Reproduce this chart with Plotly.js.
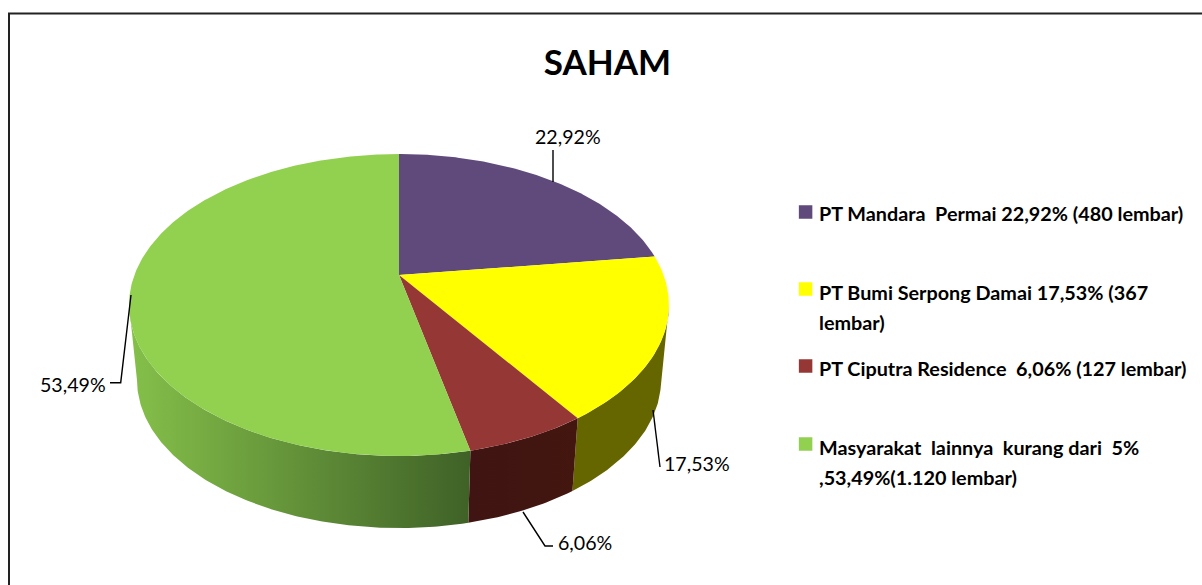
<!DOCTYPE html>
<html><head><meta charset="utf-8">
<style>html,body{margin:0;padding:0;background:#fff;overflow:hidden}#c{width:1202px;height:585px}</style>
<script src="https://cdn.plot.ly/plotly-3.0.1.min.js"></script></head>
<body><div id="c"></div>
<script>
// Data
const categories = ["PT Mandara Permai","PT Bumi Serpong Damai","PT Ciputra Residence","Masyarakat lainnya kurang dari 5%"];
const shares = [22.92,17.53,6.06,53.49];
const dataLabels = ["22,92%","17,53%","6,06%","53,49%"];
const legendLines = [
 "PT Mandara\u00a0 Permai 22,92% (480 lembar)",
 "PT Bumi Serpong Damai 17,53% (367",
 "lembar)",
 "PT Ciputra Residence\u00a0 6,06% (127 lembar)",
 "Masyarakat\u00a0 lainnya\u00a0 kurang dari\u00a0 5%",
 ",53,49%(1.120 lembar)"];
const topColors = ["#604A7B","#FFFF00","#953735","#92D050"];
const wallColors = [["#3A2C4A","#3A2C4A"],["#666600","#666600"],["#3F1412","#43160F"],["#85C04A","#3F6127"]];

// Layout constants (pixels, y down)
const CX=399, K=0.1987;
const TOP={A:264.6,al:275,be:-90.4}, BOT={A:256.8,al:350.6,be:-72.5};
const proj=(f,th)=>{const u=Math.sin(th),v=Math.cos(th),w=1+K*v;return [CX+f.A*u/w,(f.al+f.be*v)/w];};
const rad=p=>p/100*2*Math.PI;
const tanR=Math.acos(-K), tanL=2*Math.PI-Math.acos(-K);
const arc=(f,a,b)=>{const n=Math.max(2,Math.ceil(Math.abs(b-a)/0.01));const o=[];for(let i=0;i<=n;i++)o.push(proj(f,a+(b-a)*i/n));return o;};

const traces=[];
let cum=0; const spans=shares.map(s=>{const r=[rad(cum),rad(cum+s)];cum+=s;return r;});

// walls (visible part only)
spans.forEach((sp,i)=>{
  const a=Math.max(sp[0],tanR), b=Math.min(sp[1],tanL);
  if(b<=a) return;
  const pts=arc(TOP,a,b).concat(arc(BOT,b,a));
  pts.push(pts[0]);
  traces.push({type:"scatter",mode:"lines",x:pts.map(p=>p[0]),y:pts.map(p=>p[1]),fill:"toself",
    fillcolor:wallColors[i][0],
    fillgradient:{type:"horizontal",colorscale:[[0,wallColors[i][0]],[1,wallColors[i][1]]]},
    line:{width:0},hoverinfo:"skip",showlegend:false});
});
// top faces
spans.forEach((sp,i)=>{
  const pts=[[CX,TOP.al]].concat(arc(TOP,sp[0],sp[1]));pts.push([CX,TOP.al]);
  traces.push({type:"scatter",mode:"lines",x:pts.map(p=>p[0]),y:pts.map(p=>p[1]),fill:"toself",
    fillcolor:topColors[i],line:{width:0},name:categories[i],text:dataLabels[i],hoverinfo:"name+text",showlegend:false});
});
// leader lines
const leaders=[[[553,182],[553,150]],[[653,410],[660,467]],[[523,512],[545,546],[553,546]],[[131,295],[120.7,382.7],[110,382.7]]];
leaders.forEach(l=>traces.push({type:"scatter",mode:"lines",x:l.map(p=>p[0]),y:l.map(p=>p[1]),line:{color:"#000",width:1.4},hoverinfo:"skip",showlegend:false}));
// legend keys
const keyY=[212,289,366,444];
traces.push({type:"scatter",mode:"markers",x:keyY.map(()=>805.6),y:keyY,marker:{symbol:"square",size:13.5,color:topColors,line:{width:0}},hoverinfo:"skip",showlegend:false});

const FONT="Lato, Carlito, Calibri, sans-serif";
const labelPos=[[568,136],[697,463],[585,542],[73,384]];
const legendY=[213,292,322,368,447,477];
const ann=[];
dataLabels.forEach((t,i)=>ann.push({x:labelPos[i][0],y:labelPos[i][1],xref:"x",yref:"y",text:t,showarrow:false,font:{family:FONT,size:19.6,color:"#000"},xanchor:"center",yanchor:"middle"}));
legendLines.forEach((t,i)=>ann.push({x:817,y:legendY[i],xref:"x",yref:"y",text:t,showarrow:false,align:"left",font:{family:FONT,size:19.8,color:"#000",weight:700},xanchor:"left",yanchor:"middle"}));

const layout={width:1202,height:585,margin:{l:0,r:0,t:0,b:0},paper_bgcolor:"#fff",plot_bgcolor:"#fff",showlegend:false,
 title:{text:"<b>SAHAM</b>",x:607.5/1202,xanchor:"center",y:1-63/585,yanchor:"middle",font:{family:FONT,size:35,color:"#000"}},
 xaxis:{range:[0,1202],visible:false,fixedrange:true},
 yaxis:{range:[585,0],visible:false,fixedrange:true},
 shapes:[{type:"rect",xref:"paper",yref:"paper",x0:9/1202,y0:1-13.5/585,x1:1.02,y1:-0.05,line:{color:"#222",width:2},fillcolor:"rgba(0,0,0,0)",layer:"below"}],
 annotations:ann};
Plotly.newPlot("c",traces,layout,{displayModeBar:false});
</script></body></html>
